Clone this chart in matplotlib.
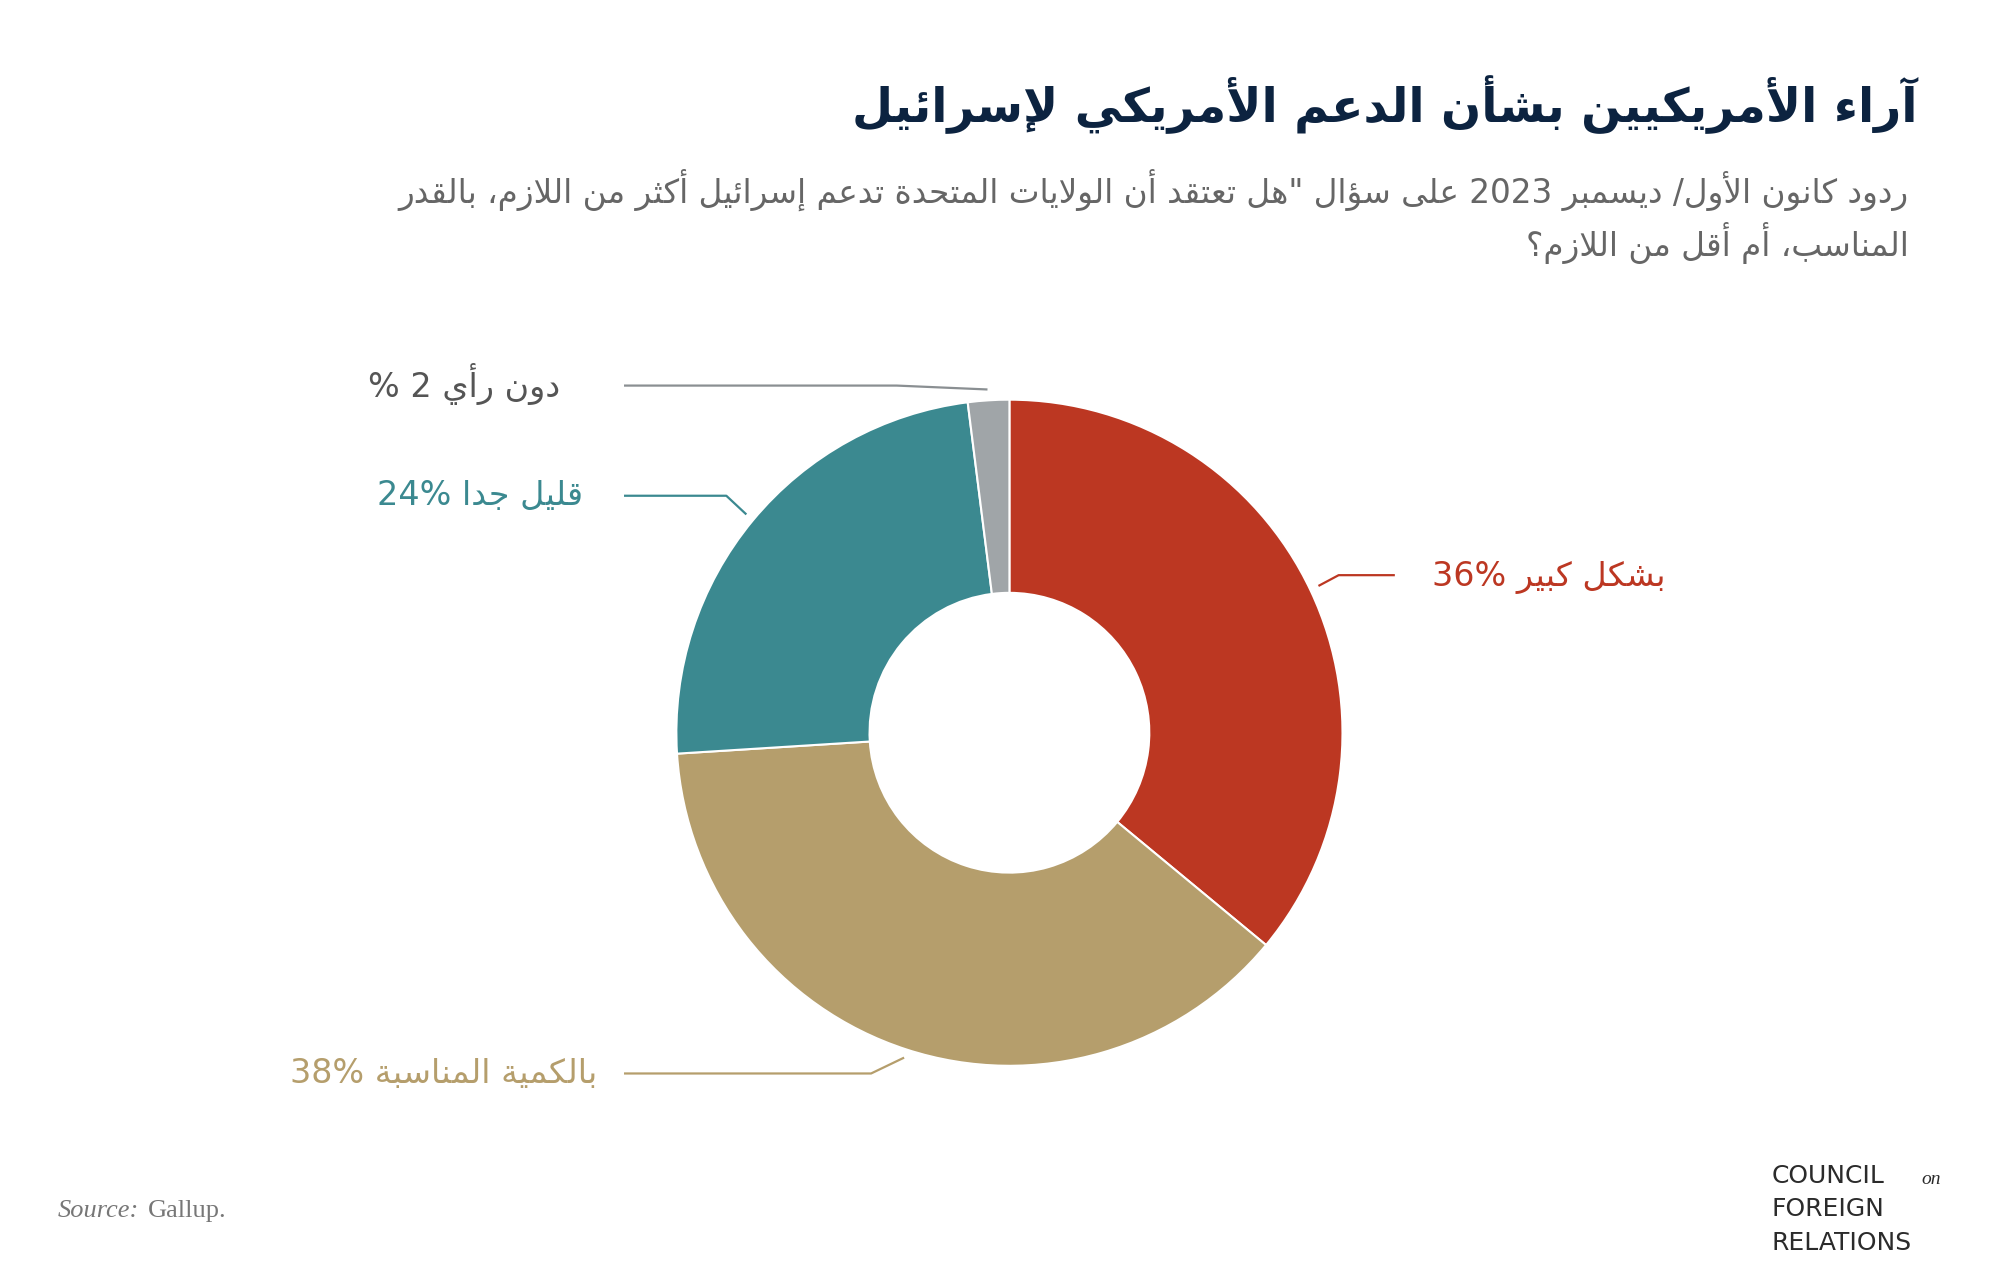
import unicodedata, re
import matplotlib
matplotlib.use("Agg")
import matplotlib.pyplot as plt

# ---------- data ----------
categories = ["بشكل كبير", "بالكمية المناسبة", "قليل جدا", "دون رأي"]
values = [36, 38, 24, 2]
colors = ["#BC3722", "#B59E6C", "#3B8990", "#A0A5A8"]
label_texts = ["بشكل كبير 36%", "بالكمية المناسبة 38%", "قليل جدا 24%", "دون رأي 2 %"]
title = "آراء الأمريكيين بشأن الدعم الأمريكي لإسرائيل"
subtitle1 = 'ردود كانون الأول/ ديسمبر 2023 على سؤال "هل تعتقد أن الولايات المتحدة تدعم إسرائيل أكثر من اللازم، بالقدر'
subtitle2 = "المناسب، أم أقل من اللازم؟"

# ---------- minimal Arabic shaping + bidi ----------
RJ = set("اأإآدذرزوؤة")
def is_ar(c): return '\u0621' <= c <= '\u064A' and c != 'ء'
def dual(c): return is_ar(c) and c not in RJ
def form(c, f):
    try: return unicodedata.lookup(unicodedata.name(c) + " " + f + " FORM")
    except KeyError:
        try: return unicodedata.lookup(unicodedata.name(c) + " ISOLATED FORM")
        except KeyError: return c
LAMALEF = {'ا': "ALEF", 'أ': "ALEF WITH HAMZA ABOVE", 'إ': "ALEF WITH HAMZA BELOW", 'آ': "ALEF WITH MADDA ABOVE"}
def shape(s):
    out = []; i = 0; n = len(s)
    while i < n:
        c = s[i]
        prevj = i > 0 and dual(s[i-1])
        if c == 'ل' and i+1 < n and s[i+1] in LAMALEF:
            f = "FINAL" if prevj else "ISOLATED"
            out.append(unicodedata.lookup("ARABIC LIGATURE LAM WITH " + LAMALEF[s[i+1]] + " " + f + " FORM"))
            i += 2; continue
        if is_ar(c):
            nextj = dual(c) and i+1 < n and is_ar(s[i+1])
            if prevj and nextj: f = "MEDIAL"
            elif prevj: f = "FINAL"
            elif nextj: f = "INITIAL"
            else: f = "ISOLATED"
            out.append(form(c, f))
        else:
            out.append(c)
        i += 1
    r = "".join(out)[::-1]
    return re.sub(r"[0-9A-Za-z%.,/]+", lambda m: m.group(0)[::-1], r)

FONT = "DejaVu Sans"
W, H = 1998, 1280
fig = plt.figure(figsize=(W/100, H/100), dpi=100)
ax = fig.add_axes([0, 0, 1, 1])

S = 1.281
def P(x, y): return (x*S, H - y*S)

cx, cy = P(788, 572)
R = 260*S
ax.pie(values, colors=colors, startangle=90, counterclock=False, center=(cx, cy), radius=R,
       wedgeprops=dict(width=R*0.58, edgecolor="white", linewidth=1.5), frame=True)
ax.set_xlim(0, W); ax.set_ylim(0, H); ax.axis("off")

lines = [
    [(1030, 457), (1045, 449), (1088, 449)],
    [(705, 826), (680, 838), (488, 838)],
    [(582, 401), (567, 387), (488, 387)],
    [(770, 304), (700, 301), (488, 301)],
]
lab_pos = [(1300, 451), (466, 838), (455, 387), (437, 300)]
line_cols = ["#BC3722", "#B59E6C", "#3B8990", "#8A8F92"]
txt_cols = ["#BC3722", "#B59E6C", "#3B8990", "#555555"]
for pts, (lx, ly), txt, lc, tc in zip(lines, lab_pos, label_texts, line_cols, txt_cols):
    xs, ys = zip(*[P(*p) for p in pts])
    ax.plot(xs, ys, color=lc, lw=1.6)
    px, py = P(lx, ly)
    ax.text(px, py, shape(txt), ha="right", va="center", fontsize=24, color=tc, family=FONT)

tx, ty = P(1497, 82)
ax.text(tx, ty, shape(title), ha="right", va="center", fontsize=34, weight="bold", color="#0C2340", family=FONT)
sx, sy = P(1490, 148)
ax.text(sx, sy, shape(subtitle1), ha="right", va="center", fontsize=23.5, color="#666666", family=FONT)
sx, sy = P(1490, 190)
ax.text(sx, sy, shape(subtitle2), ha="right", va="center", fontsize=23.5, color="#666666", family=FONT)

qx, qy = P(45, 945)
ax.text(qx, qy, "Source:", ha="left", va="center", fontsize=19, style="italic", color="#777777", family="Liberation Serif")
ax.text(qx + 90, qy, "Gallup.", ha="left", va="center", fontsize=19, color="#777777", family="Liberation Serif")

for i, t in enumerate(["COUNCIL", "FOREIGN", "RELATIONS"]):
    lx, ly = P(1383, 918 + i*26)
    ax.text(lx, ly, t, ha="left", va="center", fontsize=18, color="#2B2B2B", family="DejaVu Sans")
lx, ly = P(1500, 921)
ax.text(lx, ly, "on", ha="left", va="center", fontsize=14, style="italic", color="#2B2B2B", family="Liberation Serif")

fig.savefig("out.png", dpi=100, facecolor="white")
